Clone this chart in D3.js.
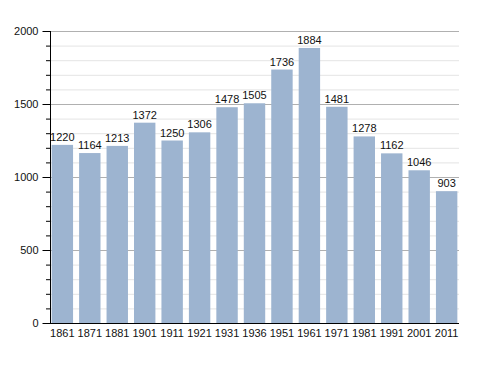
<!DOCTYPE html>
<html>
<head>
<meta charset="utf-8">
<script src="https://cdn.jsdelivr.net/npm/d3@7"></script>
<style>
  body { margin: 0; background: #fff; }
  text { font-family: "Liberation Sans", Arial, sans-serif; }
</style>
</head>
<body>
<div id="chart"></div>
<script>
// data
const years = ["1861", "1871", "1881", "1901", "1911", "1921", "1931", "1936",
  "1951", "1961", "1971", "1981", "1991", "2001", "2011"];
const population = [1220, 1164, 1213, 1372, 1250, 1306, 1478, 1505,
  1736, 1884, 1481, 1278, 1162, 1046, 903];
const yTicks = [0, 500, 1000, 1500, 2000];

const margin = { top: 31, right: 29, bottom: 50, left: 50 },
    width = 488 - margin.left - margin.right,
    height = 373 - margin.top - margin.bottom;

const svg = d3.select("#chart")
  .append("svg")
    .attr("width", 488)
    .attr("height", 373)
  .append("g")
    .attr("transform", `translate(${margin.left},${margin.top})`);

const x = d3.scaleBand()
  .domain(years)
  .range([0, width])
  .paddingInner(0.22)
  .paddingOuter(0.06);

const y = d3.scaleLinear()
  .domain([0, 2000])
  .range([height, 0]);

// minor grid lines
svg.append("g")
  .selectAll("line")
  .data(d3.range(100, 2000, 100).filter(v => v % 500 !== 0))
  .join("line")
    .attr("x1", 0)
    .attr("x2", width)
    .attr("y1", d => y(d) + 0.5)
    .attr("y2", d => y(d) + 0.5)
    .attr("stroke", "#e4e4e4");

// major grid lines
svg.append("g")
  .selectAll("line")
  .data(yTicks.slice(1))
  .join("line")
    .attr("x1", 0)
    .attr("x2", width)
    .attr("y1", d => y(d) + 0.5)
    .attr("y2", d => y(d) + 0.5)
    .attr("stroke", "#b0b0b0");

// bars
svg.selectAll("rect.bar")
  .data(population)
  .join("rect")
    .attr("class", "bar")
    .attr("x", (d, i) => x(years[i]))
    .attr("y", d => y(d))
    .attr("width", x.bandwidth())
    .attr("height", d => height - y(d))
    .attr("fill", "#9db4d0");

// value labels
svg.selectAll("text.val")
  .data(population)
  .join("text")
    .attr("class", "val")
    .attr("x", (d, i) => x(years[i]) + x.bandwidth() / 2)
    .attr("y", d => y(d) - 4)
    .attr("text-anchor", "middle")
    .attr("font-size", 11)
    .attr("fill", "#111")
    .text(d => d);

// y axis: minor ticks
svg.append("g")
  .selectAll("line")
  .data(d3.range(0, 2001, 100))
  .join("line")
    .attr("x1", -4)
    .attr("x2", 0)
    .attr("y1", d => y(d) + 0.5)
    .attr("y2", d => y(d) + 0.5)
    .attr("stroke", "#000");

const yAxis = svg.append("g")
  .attr("transform", "translate(0.5,0)")
  .call(d3.axisLeft(y).tickValues(yTicks).tickFormat(d3.format("d")).tickSize(8).tickPadding(4));
yAxis.select(".domain").attr("d", `M0,${y(2000)}V${height}`);
yAxis.selectAll("text").attr("font-size", 11).attr("fill", "#111")
  .attr("font-family", '"Liberation Sans", Arial, sans-serif');

// x axis
const xAxis = svg.append("g")
  .attr("transform", `translate(0,${height + 0.5})`)
  .call(d3.axisBottom(x).tickSize(0).tickPadding(6));
xAxis.select(".domain").attr("d", `M0,0H${width}`);
xAxis.selectAll("text").attr("font-size", 11).attr("fill", "#111")
  .attr("font-family", '"Liberation Sans", Arial, sans-serif');
</script>
</body>
</html>
